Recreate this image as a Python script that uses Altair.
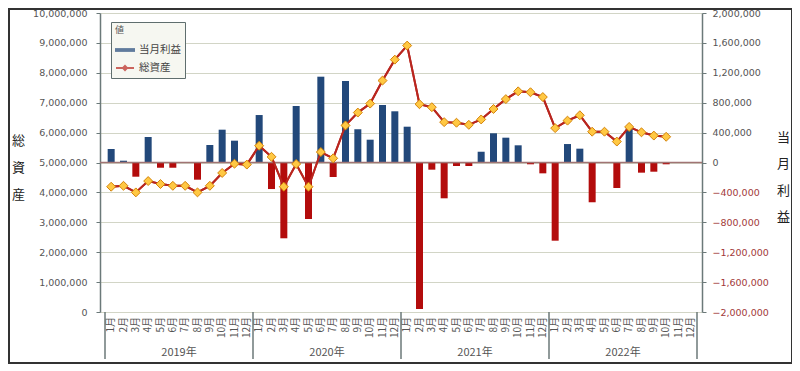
import altair as alt
import pandas as pd

# ---------------- data ----------------
years = ["2019年", "2020年", "2021年", "2022年"]
month_names = [f"{m}月" for m in range(1, 13)]
series_names = ["当月利益", "総資産"]

total_assets = [
    4190000, 4220000, 4000000, 4380000, 4280000, 4220000, 4220000, 4000000, 4220000, 4650000, 4960000, 4930000,
    5560000, 5190000, 4190000, 4950000, 4190000, 5350000, 5140000, 6240000, 6670000, 6970000, 7740000, 8440000,
    8910000, 6950000, 6850000, 6350000, 6330000, 6260000, 6440000, 6790000, 7120000, 7380000, 7350000, 7190000,
    6150000, 6400000, 6580000, 6030000, 6030000, 5700000, 6190000, 6010000, 5900000, 5860000, None, None,
]
monthly_profit = [
    181000, 24000, -190000, 341000, -70000, -70000, 0, -230000, 234000, 439000, 292000, 0,
    635000, -355000, -1014000, 756000, -756000, 1148000, -194000, 1090000, 444000, 305000, 769000, 685000,
    479000, -1960000, -96000, -479000, -47000, -47000, 144000, 391000, 332000, 230000, -24000, -145000,
    -1046000, 247000, 185000, -532000, 0, -341000, 457000, -136000, -123000, -24000, None, None,
]

left_ticks = [i * 1000000 for i in range(0, 11)]
right_ticks = [-2000000 + i * 400000 for i in range(0, 11)]

# ---------------- tables ----------------
rows = []
for yi, yname in enumerate(years):
    for mi, mname in enumerate(month_names):
        k = yi * 12 + mi
        rows.append({"idx": k + 0.5, "year": yname, "month": mname,
                     "assets": total_assets[k], "profit": monthly_profit[k]})
df = pd.DataFrame(rows)
n = len(rows)

year_df = pd.DataFrame({"mid": [yi * 12 + 6 for yi in range(len(years))], "year": years})
sep_df = pd.DataFrame({"b": [yi * 12 for yi in range(len(years) + 1)]})
legend_df = pd.DataFrame({"series": series_names})
zero_df = pd.DataFrame({"z": [0]})

BLUE = "#22487A"
RED = "#B30C0C"
LINE = "#B9261F"
AXIS = "#6B7979"
CJK = "Noto Sans CJK JP"
W, H = 602, 299

x_scale = alt.Scale(domain=[0, n], nice=False, zero=False)
profit_scale = alt.Scale(domain=[-2000000, 2000000], nice=False, zero=False)
assets_scale = alt.Scale(domain=[0, 10000000], nice=False, zero=False)

# ---------------- left axis + grid (assets) ----------------
line = alt.Chart(df).mark_line(color=LINE, strokeWidth=2).encode(
    x=alt.X("idx:Q", scale=x_scale,
            axis=alt.Axis(labels=False, ticks=False, grid=False, title=None,
                          domainColor=AXIS, domainWidth=1.5)),
    y=alt.Y("assets:Q", scale=assets_scale,
            axis=alt.Axis(orient="left", values=left_ticks, format=",.0f", grid=True,
                          tickSize=4, labelPadding=9, labelColor="#555555",
                          title=["総", "資", "産"], titleAngle=0, titleX=-82, titleY=127,
                          titleAlign="center", titleBaseline="middle", titleLineHeight=27)),
)

# ---------------- bars (right axis) ----------------
bars = alt.Chart(df).mark_bar(size=7).encode(
    x=alt.X("idx:Q", scale=x_scale, axis=None),
    y=alt.Y("profit:Q", scale=profit_scale,
            axis=alt.Axis(orient="right", values=right_ticks, format=",.0f", grid=False,
                          tickSize=4, labelPadding=6,
                          labelColor={"condition": {"test": "datum.value < 0", "value": "#A23A3A"},
                                      "value": "#555555"},
                          title=["当", "月", "利", "益"], titleAngle=0, titleX=81, titleY=124,
                          titleAlign="center", titleBaseline="middle", titleLineHeight=26.5)),
    color=alt.condition("datum.profit < 0", alt.value(RED), alt.value(BLUE)),
)

zero_rule = alt.Chart(zero_df).mark_rule(color="#A07474", strokeWidth=1.5).encode(
    y=alt.Y("z:Q", scale=profit_scale, axis=None)
)

line_top = alt.Chart(df).mark_line(color=LINE, strokeWidth=2).encode(
    x=alt.X("idx:Q", scale=x_scale, axis=None),
    y=alt.Y("assets:Q", scale=assets_scale, axis=None),
)

points = alt.Chart(df).mark_point(shape="diamond", filled=True, size=80, fill="#FFC843",
                                  stroke="#D4830A", strokeWidth=1, opacity=1).encode(
    x=alt.X("idx:Q", scale=x_scale, axis=None),
    y=alt.Y("assets:Q", scale=assets_scale, axis=None),
)

legend_layer = alt.Chart(legend_df).mark_point(filled=False, strokeWidth=2).encode(
    color=alt.Color("series:N",
                    scale=alt.Scale(domain=series_names, range=[BLUE, LINE]),
                    legend=alt.Legend(title="値", orient="none", legendX=11, legendY=9,
                                      fillColor="#F6F7F1", strokeColor="#5F6E6E", padding=4,
                                      titleFont=CJK, titleFontSize=9, titleColor="#555555",
                                      titleFontWeight="normal", titlePadding=5,
                                      labelFont=CJK, labelFontSize=10.5, labelColor="#444444",
                                      symbolSize=324, symbolStrokeWidth=2, rowPadding=2)),
    shape=alt.Shape("series:N",
                    scale=alt.Scale(domain=series_names,
                                    range=["M-1,-0.1H1V0.1H-1Z",
                                           "M-1,0H1M-0.22,0L0,-0.22L0.22,0L0,0.22Z"]),
                    legend=alt.Legend(title="値", orient="none", legendX=11, legendY=9)),
).transform_filter("false")

month_text = alt.Chart(df).mark_text(font=CJK, fontSize=10, color="#555555", angle=270,
                                     align="right", baseline="middle").encode(
    x=alt.X("idx:Q", scale=x_scale, axis=None),
    y=alt.value(H + 5),
    text="month:N",
)

separators = alt.Chart(sep_df).mark_rule(color=AXIS, strokeWidth=1.5).encode(
    x=alt.X("b:Q", scale=x_scale, axis=None),
    y=alt.value(H),
    y2=alt.value(H + 47),
)

year_text = alt.Chart(year_df).mark_text(font=CJK, fontSize=11, color="#555555",
                                         baseline="middle", align="center").encode(
    x=alt.X("mid:Q", scale=x_scale, axis=None),
    y=alt.value(H + 41),
    text="year:N",
)

frame = alt.Chart(zero_df).mark_rect(fillOpacity=0, stroke="#333333", strokeWidth=2).encode(
    x=alt.value(-91), x2=alt.value(W + 90), y=alt.value(-4), y2=alt.value(H + 51)
)

chart = alt.layer(
    line, bars, zero_rule, line_top, points, legend_layer, month_text, separators, year_text, frame
).resolve_scale(
    y="independent"
).properties(
    width=W, height=H,
    autosize=alt.AutoSizeParams(type="none"),
    padding={"left": 92, "top": 5, "right": 90, "bottom": 52},
    background="white",
).configure_view(
    fill="#ECEEE1", stroke="transparent"
).configure_axis(
    domainColor=AXIS, tickColor=AXIS, domainWidth=1.5,
    labelFont="DejaVu Sans", labelFontSize=9.5,
    gridColor="#D2D5C6", gridWidth=1,
    titleFont=CJK, titleFontSize=13, titleColor="#222222", titleFontWeight="normal",
)

chart.save("out.html", embed_options={"renderer": "svg", "actions": False})
